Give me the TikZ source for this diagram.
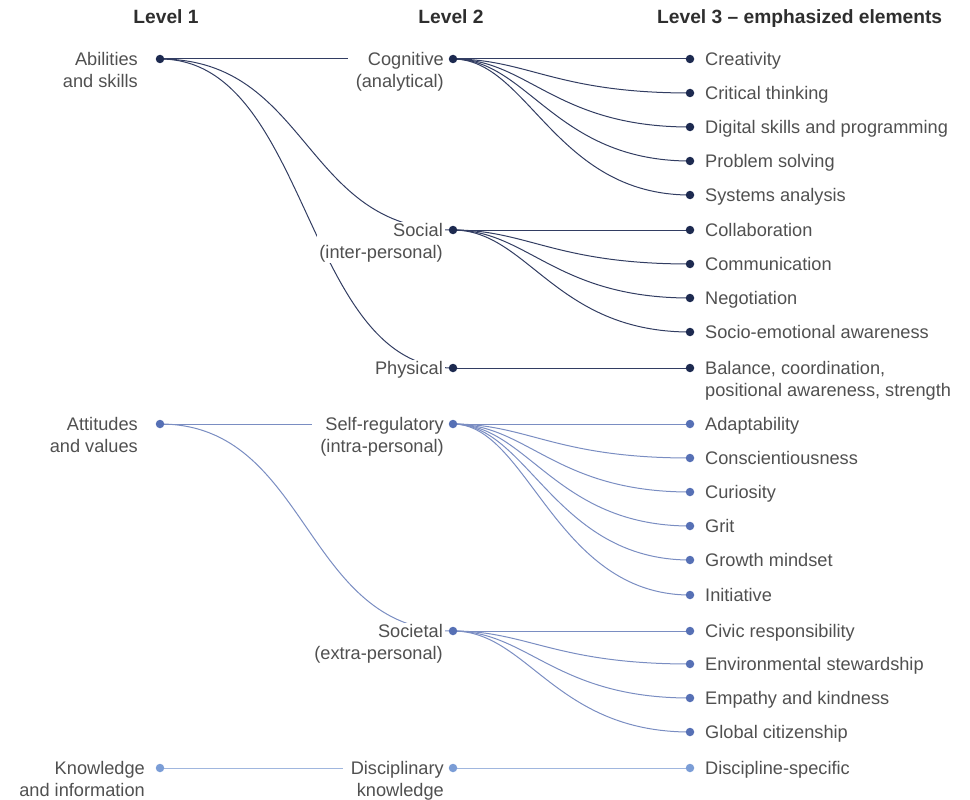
\documentclass[tikz,border=0pt]{standalone}
\usepackage{fontspec}
\setmainfont{Liberation Sans}
\usepackage{tikz}
\usetikzlibrary{positioning,backgrounds}
\usepackage{xcolor}
\definecolor{NavyDot}{HTML}{1D2A50}
\definecolor{NavyLine}{HTML}{323D62}
\definecolor{MidDot}{HTML}{5670B5}
\definecolor{MidLine}{HTML}{7A8DC2}
\definecolor{PaleDot}{HTML}{7B9DD6}
\definecolor{PaleLine}{HTML}{A0B6DE}
\definecolor{LabelGrey}{HTML}{505050}
\definecolor{HeadGrey}{HTML}{2E2E2E}
\newcommand{\txtfont}{\fontsize{18.2}{22}\selectfont}

\begin{document}
\begin{tikzpicture}[
    x=1pt,y=-1pt,
    dot/.style={circle,fill=#1,inner sep=0pt,minimum size=8.5pt},
    head/.style={anchor=base,text=HeadGrey,inner sep=0pt,
      font=\fontsize{19.2}{23}\selectfont\bfseries},
    lvlone/.style={anchor=base east,align=right,text=LabelGrey,inner sep=0pt,font=\txtfont},
    lvltwo/.style={anchor=base east,align=right,text=LabelGrey,fill=white,
      inner xsep=2pt,inner ysep=1pt,font=\txtfont},
    item/.style={anchor=base west,align=left,text=LabelGrey,inner sep=0pt,font=\txtfont},
    link/.style={draw=#1,line width=1pt}
  ]
    \useasboundingbox (0,0) rectangle (970,800);

    % headings
    \node[head] (h1) at (166,24) {Level 1};
    \node[head] (h2) at (451,24) {Level 2};
    \node[head,anchor=base west] (h3) at (657,24) {Level 3 -- emphasized elements};

    % level 1 (two-line texts sit on the base of their last line)
    \node[dot=NavyDot] (abil) at (160,59) {};
    \node[dot=MidDot] (atti) at (160,424) {};
    \node[dot=PaleDot] (know) at (160,768) {};
    \node[lvlone] (abilL) at ([xshift=-22pt,yshift=-28.5pt]abil) {Abilities\\and skills};
    \node[lvlone] (attiL) at ([xshift=-22pt,yshift=-28.5pt]atti) {Attitudes\\and values};
    \node[lvlone] (knowL) at ([xshift=-15pt,yshift=-28.5pt]know) {Knowledge\\and information};

    % level 2
    \node[dot=NavyDot] (cogn) at (453,59) {};
    \node[dot=NavyDot] (soci) at (453,230) {};
    \node[dot=NavyDot] (phys) at (453,368) {};
    \node[dot=MidDot] (selfr) at (453,424) {};
    \node[dot=MidDot] (socie) at (453,631) {};
    \node[dot=PaleDot] (disci) at (453,768) {};
    \node[lvltwo] (cognL) at ([xshift=-7pt,yshift=-28.5pt]cogn) {Cognitive\\(analytical)};
    \node[lvltwo] (sociL) at ([xshift=-8pt,yshift=-28.5pt]soci) {Social\\(inter-personal)};
    \node[lvltwo] (physL) at ([xshift=-8pt,yshift=-6.5pt]phys) {Physical};
    \node[lvltwo] (selfrL) at ([xshift=-7pt,yshift=-28.5pt]selfr) {Self-regulatory\\(intra-personal)};
    \node[lvltwo] (socieL) at ([xshift=-8pt,yshift=-28.5pt]socie) {Societal\\(extra-personal)};
    \node[lvltwo] (disciL) at ([xshift=-7pt,yshift=-28.5pt]disci) {Disciplinary\\knowledge};

    % level 3
    \node[dot=NavyDot] (creat) at (690,59) {};
    \node[dot=NavyDot] (crit) at (690,93) {};
    \node[dot=NavyDot] (digi) at (690,127) {};
    \node[dot=NavyDot] (prob) at (690,161) {};
    \node[dot=NavyDot] (syst) at (690,195) {};
    \node[dot=NavyDot] (colla) at (690,230) {};
    \node[dot=NavyDot] (commu) at (690,264) {};
    \node[dot=NavyDot] (nego) at (690,298) {};
    \node[dot=NavyDot] (emoti) at (690,332) {};
    \node[dot=NavyDot] (balan) at (690,368) {};
    \node[dot=MidDot] (adapt) at (690,424) {};
    \node[dot=MidDot] (consc) at (690,458) {};
    \node[dot=MidDot] (curio) at (690,492) {};
    \node[dot=MidDot] (grit) at (690,526) {};
    \node[dot=MidDot] (growth) at (690,560) {};
    \node[dot=MidDot] (init) at (690,595) {};
    \node[dot=MidDot] (civic) at (690,631) {};
    \node[dot=MidDot] (envir) at (690,664) {};
    \node[dot=MidDot] (empat) at (690,698) {};
    \node[dot=MidDot] (global) at (690,732) {};
    \node[dot=PaleDot] (dspec) at (690,768) {};

    \node[item] (creatL) at ([xshift=15pt,yshift=-6.5pt]creat) {Creativity};
    \node[item] (critL) at ([xshift=15pt,yshift=-6.5pt]crit) {Critical thinking};
    \node[item] (digiL) at ([xshift=15pt,yshift=-6.5pt]digi) {Digital skills and programming};
    \node[item] (probL) at ([xshift=15pt,yshift=-6.5pt]prob) {Problem solving};
    \node[item] (systL) at ([xshift=15pt,yshift=-6.5pt]syst) {Systems analysis};
    \node[item] (collaL) at ([xshift=15pt,yshift=-6.5pt]colla) {Collaboration};
    \node[item] (commuL) at ([xshift=15pt,yshift=-6.5pt]commu) {Communication};
    \node[item] (negoL) at ([xshift=15pt,yshift=-6.5pt]nego) {Negotiation};
    \node[item] (emotiL) at ([xshift=15pt,yshift=-6.5pt]emoti) {Socio-emotional awareness};
    \node[item] (balanL) at ([xshift=15pt,yshift=-28.5pt]balan) {Balance, coordination,\\positional awareness, strength};
    \node[item] (adaptL) at ([xshift=15pt,yshift=-6.5pt]adapt) {Adaptability};
    \node[item] (conscL) at ([xshift=15pt,yshift=-6.5pt]consc) {Conscientiousness};
    \node[item] (curioL) at ([xshift=15pt,yshift=-6.5pt]curio) {Curiosity};
    \node[item] (gritL) at ([xshift=15pt,yshift=-6.5pt]grit) {Grit};
    \node[item] (growthL) at ([xshift=15pt,yshift=-6.5pt]growth) {Growth mindset};
    \node[item] (initL) at ([xshift=15pt,yshift=-6.5pt]init) {Initiative};
    \node[item] (civicL) at ([xshift=15pt,yshift=-6.5pt]civic) {Civic responsibility};
    \node[item] (envirL) at ([xshift=15pt,yshift=-6.5pt]envir) {Environmental stewardship};
    \node[item] (empatL) at ([xshift=15pt,yshift=-6.5pt]empat) {Empathy and kindness};
    \node[item] (globalL) at ([xshift=15pt,yshift=-6.5pt]global) {Global citizenship};
    \node[item] (dspecL) at ([xshift=15pt,yshift=-6.5pt]dspec) {Discipline-specific};

    % connectors, kept under the dots and labels
    \begin{scope}[on background layer]
    \draw[link=NavyLine,shorten >=6pt] (abil.center) -- (abil.center -| cognL.west);
    \draw[link=NavyLine] (abil.center) .. controls +(150,0) and +(-150,0) .. (soci.center);
    \draw[link=NavyLine] (abil.center) .. controls +(150,0) and +(-150,0) .. (phys.center);
    \draw[link=MidLine,shorten >=6pt] (atti.center) -- (atti.center -| selfrL.west);
    \draw[link=MidLine] (atti.center) .. controls +(150,0) and +(-150,0) .. (socie.center);
    \draw[link=PaleLine,shorten >=6pt] (know.center) -- (know.center -| disciL.west);

    \draw[link=NavyLine] (cogn.center) -- (creat.center);
    \foreach \t in {crit,digi,prob,syst}
      \draw[link=NavyLine] (cogn.center) .. controls +(75,0) and +(-135,0) .. (\t.center);
    \draw[link=NavyLine] (soci.center) -- (colla.center);
    \foreach \t in {commu,nego,emoti}
      \draw[link=NavyLine] (soci.center) .. controls +(75,0) and +(-135,0) .. (\t.center);
    \draw[link=NavyLine] (phys.center) -- (balan.center);
    \draw[link=MidLine] (selfr.center) -- (adapt.center);
    \foreach \t in {consc,curio,grit,growth,init}
      \draw[link=MidLine] (selfr.center) .. controls +(75,0) and +(-135,0) .. (\t.center);
    \draw[link=MidLine] (socie.center) -- (civic.center);
    \foreach \t in {envir,empat,global}
      \draw[link=MidLine] (socie.center) .. controls +(75,0) and +(-135,0) .. (\t.center);
    \draw[link=PaleLine] (disci.center) -- (dspec.center);
    \end{scope}
  \end{tikzpicture}
\end{document}
